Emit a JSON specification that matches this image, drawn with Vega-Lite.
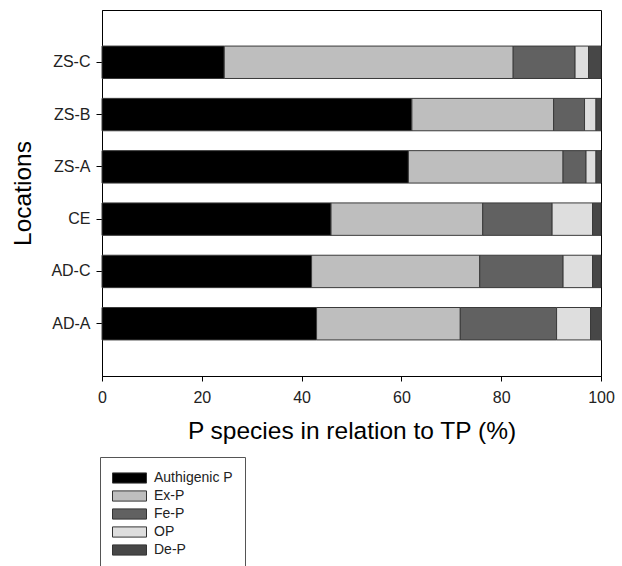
{
  "$schema": "https://vega.github.io/schema/vega-lite/v6.json",
  "autosize": {"type": "none"},
  "padding": {"left": 102, "top": 10, "right": 21, "bottom": 190},
  "width": 499,
  "height": 366,
  "background": "white",
  "config": {
    "font": "Liberation Sans",
    "view": {"stroke": "#000000", "strokeWidth": 1}
  },
  "data": {
    "values": [
      {"loc": "ZS-C", "species": "Authigenic P", "k": 1, "v": 24.5},
      {"loc": "ZS-C", "species": "Ex-P", "k": 2, "v": 57.9},
      {"loc": "ZS-C", "species": "Fe-P", "k": 3, "v": 12.4},
      {"loc": "ZS-C", "species": "OP", "k": 4, "v": 2.7},
      {"loc": "ZS-C", "species": "De-P", "k": 5, "v": 2.5},
      {"loc": "ZS-B", "species": "Authigenic P", "k": 1, "v": 62.1},
      {"loc": "ZS-B", "species": "Ex-P", "k": 2, "v": 28.4},
      {"loc": "ZS-B", "species": "Fe-P", "k": 3, "v": 6.2},
      {"loc": "ZS-B", "species": "OP", "k": 4, "v": 2.3},
      {"loc": "ZS-B", "species": "De-P", "k": 5, "v": 1.0},
      {"loc": "ZS-A", "species": "Authigenic P", "k": 1, "v": 61.4},
      {"loc": "ZS-A", "species": "Ex-P", "k": 2, "v": 31.0},
      {"loc": "ZS-A", "species": "Fe-P", "k": 3, "v": 4.6},
      {"loc": "ZS-A", "species": "OP", "k": 4, "v": 2.0},
      {"loc": "ZS-A", "species": "De-P", "k": 5, "v": 1.0},
      {"loc": "CE", "species": "Authigenic P", "k": 1, "v": 45.9},
      {"loc": "CE", "species": "Ex-P", "k": 2, "v": 30.4},
      {"loc": "CE", "species": "Fe-P", "k": 3, "v": 13.9},
      {"loc": "CE", "species": "OP", "k": 4, "v": 8.1},
      {"loc": "CE", "species": "De-P", "k": 5, "v": 1.7},
      {"loc": "AD-C", "species": "Authigenic P", "k": 1, "v": 42.0},
      {"loc": "AD-C", "species": "Ex-P", "k": 2, "v": 33.7},
      {"loc": "AD-C", "species": "Fe-P", "k": 3, "v": 16.7},
      {"loc": "AD-C", "species": "OP", "k": 4, "v": 5.9},
      {"loc": "AD-C", "species": "De-P", "k": 5, "v": 1.7},
      {"loc": "AD-A", "species": "Authigenic P", "k": 1, "v": 43.0},
      {"loc": "AD-A", "species": "Ex-P", "k": 2, "v": 28.8},
      {"loc": "AD-A", "species": "Fe-P", "k": 3, "v": 19.3},
      {"loc": "AD-A", "species": "OP", "k": 4, "v": 6.8},
      {"loc": "AD-A", "species": "De-P", "k": 5, "v": 2.2}
    ]
  },
  "mark": {"type": "bar", "stroke": "#3a3a3a", "strokeWidth": 1},
  "encoding": {
    "y": {
      "field": "loc",
      "type": "nominal",
      "sort": ["ZS-C", "ZS-B", "ZS-A", "CE", "AD-C", "AD-A"],
      "scale": {"paddingInner": 0.38, "paddingOuter": 0.69},
      "axis": {
        "title": "Locations",
        "titleFontSize": 24.5,
        "titleFontWeight": "normal",
        "titleColor": "#000000",
        "titlePadding": 15,
        "labelFontSize": 16,
        "labelColor": "#222222",
        "labelPadding": 6,
        "tickSize": 6,
        "tickColor": "#000000",
        "domainColor": "#000000"
      }
    },
    "x": {
      "field": "v",
      "type": "quantitative",
      "stack": "zero",
      "scale": {"domain": [0, 100], "nice": false},
      "axis": {
        "title": "P species in relation to TP (%)",
        "titleFontSize": 24.5,
        "titleFontWeight": "normal",
        "titleColor": "#000000",
        "titlePadding": 14,
        "values": [0, 20, 40, 60, 80, 100],
        "grid": false,
        "labelFontSize": 16,
        "labelColor": "#222222",
        "labelPadding": 8,
        "labelFlush": false,
        "tickSize": 5,
        "tickColor": "#000000",
        "domainColor": "#000000"
      }
    },
    "color": {
      "field": "species",
      "type": "nominal",
      "scale": {
        "domain": ["Authigenic P", "Ex-P", "Fe-P", "OP", "De-P"],
        "range": ["#000000", "#bebebe", "#616161", "#dedede", "#474747"]
      },
      "legend": {
        "title": null,
        "orient": "none",
        "legendX": -2,
        "legendY": 447,
        "strokeColor": "#555555",
        "fillColor": "#ffffff",
        "padding": 12,
        "symbolType": "M-1,-0.6H3V0.6H-1Z",
        "symbolSize": 289,
        "symbolStrokeColor": "#333333",
        "symbolStrokeWidth": 1,
        "labelFontSize": 14,
        "labelColor": "#222222",
        "labelOffset": 24,
        "rowPadding": 1
      }
    },
    "order": {"field": "k", "type": "quantitative"}
  }
}
